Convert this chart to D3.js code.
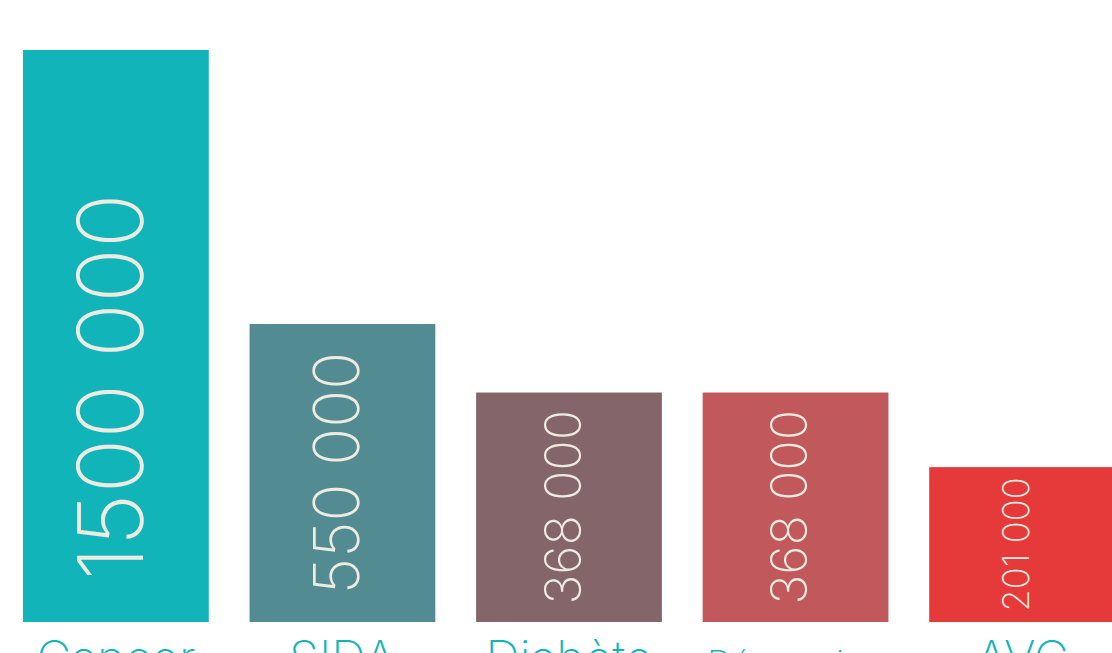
<!DOCTYPE html>
<head>
  <meta charset="utf-8" />
  <script src="https://d3js.org/d3.v7.min.js"></script>
  <style>
    body {
      margin: 0;
      overflow: hidden;
      background: #fff;
    }
    text {
      font-family: "Inter", "Roboto", sans-serif;
      font-weight: 160;
    }
  </style>
</head>

<body>
  <script>
    var width = 1112,
      height = 653;

    // données
    var maladies = ["Cancer", "SIDA", "Diabète", "Dépression", "AVC"];
    var morts = [1500000, 550000, 368000, 368000, 201000];
    var labels = ["1500 000", "550 000", "368 000", "368 000", "201 000"];
    var couleurs = ["#11b5b9", "#528b91", "#84656a", "#c1585c", "#e63a3a"];

    var data = maladies.map(function (m, i) {
      return { nom: m, valeur: morts[i], label: labels[i], couleur: couleurs[i] };
    });

    var svg = d3
      .select("body")
      .append("svg")
      .attr("width", width)
      .attr("height", height);

    var bottom = 622;

    var x = d3
      .scaleBand()
      .domain(maladies)
      .range([23, 1115])
      .paddingInner(0.18)
      .paddingOuter(0);

    var y = d3
      .scalePow()
      .exponent(0.65)
      .domain([0, 1500000])
      .range([bottom, 50]);

    // taille du texte selon la hauteur de la barre
    var taille = d3.scaleLinear().domain([158, 304]).range([37, 64]);

    var g = svg.append("g");

    g.selectAll("rect")
      .data(data)
      .join("rect")
      .attr("x", function (d) { return x(d.nom); })
      .attr("y", function (d) { return y(d.valeur); })
      .attr("width", x.bandwidth())
      .attr("height", function (d) { return bottom - y(d.valeur); })
      .attr("fill", function (d) { return d.couleur; });

    // valeurs verticales dans les barres
    g.selectAll("text.valeur")
      .data(data)
      .join("text")
      .attr("class", "valeur")
      .attr("text-anchor", "middle")
      .attr("fill", "#eeebe0")
      .style("font-size", function (d) {
        var h = bottom - y(d.valeur);
        return Math.min(91, taille(h)) + "px";
      })
      .attr("transform", function (d) {
        var h = bottom - y(d.valeur);
        var fs = Math.min(91, taille(h));
        var cx = x(d.nom) + x.bandwidth() / 2 + fs * 0.37 - 7;
        var cy = bottom - Math.min(h / 2, 235);
        return "translate(" + cx + "," + cy + ") rotate(-90)";
      })
      .text(function (d) { return d.label; });

    // noms des maladies sous les barres
    g.selectAll("text.nom")
      .data(data)
      .join("text")
      .attr("class", "nom")
      .attr("text-anchor", "middle")
      .attr("fill", "#11b5b9")
      .attr("x", function (d) { return x(d.nom) + x.bandwidth() / 2; })
      .attr("y", 675)
      .style("font-size", "48px")
      .text(function (d) { return d.nom; })
      .each(function () {
        var len = this.getComputedTextLength();
        if (len > x.bandwidth() * 0.95) {
          d3.select(this).style("font-size", (48 * x.bandwidth() * 0.95 / len) + "px");
        }
      });
  </script>
</body>
